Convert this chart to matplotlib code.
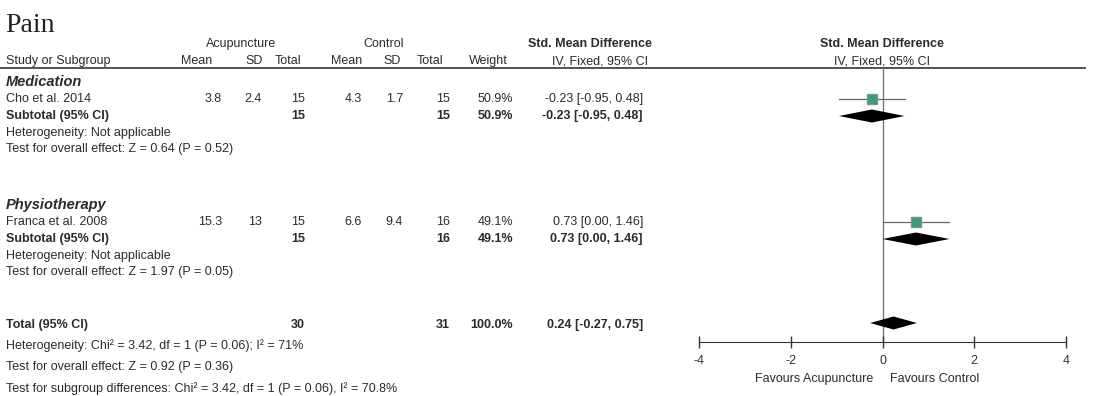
import matplotlib
matplotlib.use("Agg")
import matplotlib.pyplot as plt

# subgroup / study data (std. mean difference, fixed effect)
groups = ["Medication", "Physiotherapy"]
studies = ["Cho et al. 2014", "Franca et al. 2008"]
acu_mean = [3.8, 15.3]
acu_sd = [2.4, 13]
acu_n = [15, 15]
ctl_mean = [4.3, 6.6]
ctl_sd = [1.7, 9.4]
ctl_n = [15, 16]
weight = [50.9, 49.1]
smd = [-0.23, 0.73]
smd_lo = [-0.95, 0.00]
smd_hi = [0.48, 1.46]
group_z = ["Z = 0.64 (P = 0.52)", "Z = 1.97 (P = 0.05)"]

total_n = [30, 31]
total_smd = [0.24, -0.27, 0.75]
xticks = [-4, -2, 0, 2, 4]

TXT = "#2b2b2b"
FONT = "Liberation Sans"
FS = 9

fig = plt.figure(figsize=(10.94, 3.96), dpi=100)
tab = fig.add_axes([0, 0, 1, 1])
tab.set_xlim(0, 1094)
tab.set_ylim(396, 0)
tab.axis("off")

# forest panel: -4..4 spans px 699..1066
fp = fig.add_axes([699 / 1094, 0, (1066 - 699) / 1094, 1])
fp.set_xlim(-4, 4)
fp.set_ylim(396, 0)
fp.patch.set_alpha(0)


def t(x, y, s, ha="left", bold=False, italic=False, size=FS, color=TXT, family=FONT):
    tab.text(x, y, s, ha=ha, va="center", fontsize=size, color=color, family=family,
             fontweight="bold" if bold else "normal",
             fontstyle="italic" if italic else "normal")


def ci(e, lo, hi):
    return f"{e:.2f} [{lo:.2f}, {hi:.2f}]"


t(5, 25, "Pain", size=20, family="Liberation Serif", color="#222222")

# header
t(241, 44, "Acupuncture", ha="center")
t(384, 44, "Control", ha="center")
t(590, 44, "Std. Mean Difference", ha="center", bold=True)
t(882, 44, "Std. Mean Difference", ha="center", bold=True)
for x, s in [(197, "Mean"), (254, "SD"), (288, "Total"), (347, "Mean"),
             (392, "SD"), (430, "Total"), (488, "Weight")]:
    t(x, 61, s, ha="center")
t(6, 61, "Study or Subgroup")
t(600, 61, "IV, Fixed, 95% CI", ha="center")
t(882, 61, "IV, Fixed, 95% CI", ha="center")
tab.plot([0, 1085], [68, 68], color="#444444", lw=1.3)

cols = [222, 262, 305, 362, 403, 450, 513]
group_top = [82, 205]
dia_h = 6.5

for i, g in enumerate(groups):
    y0 = group_top[i]
    t(6, y0, g, bold=True, italic=True, size=10.5)
    ys, yt = y0 + 17, y0 + 34
    vals = [f"{acu_mean[i]}", f"{acu_sd[i]}", f"{acu_n[i]}", f"{ctl_mean[i]}",
            f"{ctl_sd[i]}", f"{ctl_n[i]}", f"{weight[i]}%"]
    t(6, ys, studies[i])
    for x, s in zip(cols, vals):
        t(x, ys, s, ha="right")
    t(643, ys, ci(smd[i], smd_lo[i], smd_hi[i]), ha="right")

    t(6, yt, "Subtotal (95% CI)", bold=True)
    t(cols[2], yt, f"{acu_n[i]}", ha="right", bold=True)
    t(cols[5], yt, f"{ctl_n[i]}", ha="right", bold=True)
    t(cols[6], yt, f"{weight[i]}%", ha="right", bold=True)
    t(643, yt, ci(smd[i], smd_lo[i], smd_hi[i]), ha="right", bold=True)
    t(6, y0 + 51, "Heterogeneity: Not applicable")
    t(6, y0 + 67, "Test for overall effect: " + group_z[i])

    # study square with CI, then subgroup diamond
    fp.plot([smd_lo[i], smd_hi[i]], [ys, ys], color="#666666", lw=0.9, zorder=2)
    fp.plot(smd[i], ys, marker="s", ms=7.5, color="#3f9a7a", mec="#6a9f88", zorder=3)
    fp.fill([smd_lo[i], smd[i], smd_hi[i], smd[i]], [yt, yt - dia_h, yt, yt + dia_h],
            color="black", lw=0, zorder=3)

# overall
yT = 325
t(6, yT, "Total (95% CI)", bold=True)
t(cols[2], yT, f"{total_n[0]}", ha="right", bold=True)
t(cols[5], yT, f"{total_n[1]}", ha="right", bold=True)
t(cols[6], yT, "100.0%", ha="right", bold=True)
t(643, yT, ci(*total_smd), ha="right", bold=True)
t(6, 346, "Heterogeneity: Chi² = 3.42, df = 1 (P = 0.06); I² = 71%")
t(6, 367, "Test for overall effect: Z = 0.92 (P = 0.36)")
t(6, 389, "Test for subgroup differences: Chi² = 3.42, df = 1 (P = 0.06), I² = 70.8%")
e, lo, hi = total_smd
fp.fill([lo, e, hi, e], [yT - 2, yT - 2 - dia_h, yT - 2, yT - 2 + dia_h],
        color="black", lw=0, zorder=3)

# zero line and scale
fp.plot([0, 0], [68, 342], color="#777777", lw=1.0, zorder=1)
for s in ["top", "left", "right"]:
    fp.spines[s].set_visible(False)
fp.spines["bottom"].set_position(("data", 342))
fp.spines["bottom"].set_color("#333333")
fp.set_yticks([])
fp.set_xticks(xticks)
fp.set_xticklabels([str(v) for v in xticks])
fp.tick_params(axis="x", direction="inout", length=8, width=1, colors="#333333",
               labelsize=FS, pad=5)
for lab in fp.get_xticklabels():
    lab.set_family(FONT)
t(873, 379, "Favours Acupuncture", ha="right")
t(890, 379, "Favours Control")

fig.savefig("out.png", dpi=100)
